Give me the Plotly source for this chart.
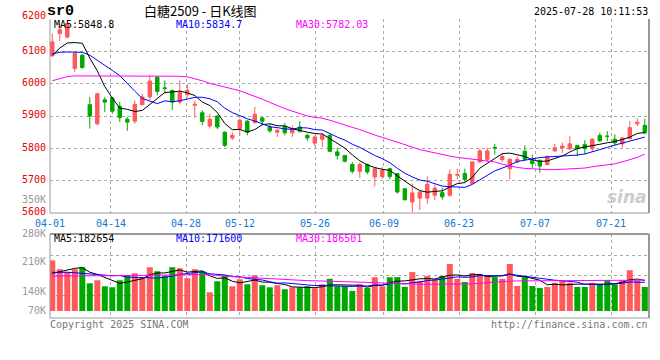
import plotly.graph_objects as go

# ---------------- data ----------------
dates = [
    "04-01", "04-02", "04-03", "04-07", "04-08", "04-09", "04-10", "04-11", "04-14", "04-15",
    "04-16", "04-17", "04-18", "04-21", "04-22", "04-23", "04-24", "04-25", "04-28", "04-29",
    "04-30", "05-06", "05-07", "05-08", "05-09", "05-12", "05-13", "05-14", "05-15", "05-16",
    "05-19", "05-20", "05-21", "05-22", "05-23", "05-26", "05-27", "05-28", "05-29", "05-30",
    "06-03", "06-04", "06-05", "06-06", "06-09", "06-10", "06-11", "06-12", "06-13", "06-16",
    "06-17", "06-18", "06-19", "06-20", "06-23", "06-24", "06-25", "06-26", "06-27", "06-30",
    "07-01", "07-02", "07-03", "07-04", "07-07", "07-08", "07-09", "07-10", "07-11", "07-14",
    "07-15", "07-16", "07-17", "07-18", "07-21", "07-22", "07-23", "07-24", "07-25", "07-28",
]

opens = [6086, 6155, 6144, 6047, 6088, 5935, 5876, 5950, 5956, 5930,
         5890, 5884, 5935, 5959, 6020, 5987, 5979, 5943, 5966, 5933,
         5910, 5869, 5900, 5850, 5832, 5861, 5884, 5880, 5894, 5866,
         5850, 5868, 5848, 5866, 5840, 5816, 5828, 5840, 5789, 5778,
         5750, 5729, 5750, 5711, 5713, 5737, 5722, 5675, 5634, 5646,
         5646, 5655, 5663, 5655, 5717, 5722, 5691, 5758, 5766, 5803,
         5765, 5737, 5758, 5791, 5763, 5763, 5750, 5792, 5801, 5799,
         5809, 5812, 5799, 5840, 5838, 5828, 5814, 5830, 5876, 5871]
highs = [6155, 6186, 6197, 6100, 6092, 5959, 5971, 5959, 5959, 5943,
         5897, 5948, 5969, 6026, 6024, 6010, 5981, 6010, 5998, 5948,
         5918, 5907, 5902, 5852, 5850, 5892, 5887, 5928, 5897, 5874,
         5861, 5878, 5871, 5884, 5845, 5840, 5848, 5845, 5802, 5779,
         5758, 5756, 5753, 5742, 5742, 5740, 5724, 5676, 5691, 5670,
         5713, 5686, 5678, 5735, 5737, 5737, 5759, 5799, 5802, 5814,
         5784, 5770, 5775, 5809, 5780, 5765, 5778, 5814, 5818, 5838,
         5810, 5825, 5832, 5848, 5853, 5843, 5835, 5885, 5892, 5892]
lows = [6083, 6131, 6140, 6036, 6046, 5861, 5871, 5912, 5907, 5881,
        5854, 5876, 5933, 5950, 5964, 5969, 5918, 5936, 5957, 5895,
        5871, 5861, 5859, 5804, 5825, 5840, 5840, 5876, 5871, 5848,
        5835, 5840, 5835, 5848, 5823, 5806, 5804, 5789, 5765, 5757,
        5722, 5708, 5720, 5682, 5706, 5704, 5660, 5639, 5603, 5609,
        5629, 5639, 5641, 5650, 5704, 5696, 5689, 5755, 5758, 5781,
        5758, 5703, 5753, 5763, 5739, 5725, 5747, 5789, 5786, 5794,
        5775, 5781, 5789, 5820, 5822, 5809, 5802, 5828, 5869, 5843]
closes = [6129, 6167, 6186, 6093, 6050, 5900, 5969, 5943, 5915, 5895,
          5881, 5936, 5959, 6008, 5976, 5985, 5943, 5974, 5979, 5936,
          5883, 5890, 5866, 5809, 5840, 5887, 5850, 5905, 5884, 5854,
          5856, 5848, 5861, 5853, 5832, 5835, 5840, 5791, 5778, 5760,
          5729, 5750, 5727, 5737, 5732, 5713, 5665, 5641, 5662, 5665,
          5689, 5677, 5650, 5720, 5719, 5704, 5758, 5792, 5792, 5801,
          5775, 5766, 5766, 5766, 5753, 5745, 5775, 5802, 5807, 5814,
          5799, 5799, 5828, 5823, 5837, 5817, 5832, 5864, 5881, 5848]

ma5 = [6088, 6110, 6126, 6127, 6125.0, 6079.2, 6039.6, 5991.0, 5955.4, 5924.4,
       5920.6, 5914.0, 5917.2, 5935.8, 5952.0, 5972.8, 5974.2, 5977.2, 5971.4, 5963.4,
       5943.0, 5932.4, 5910.8, 5876.8, 5857.6, 5858.4, 5850.4, 5858.2, 5873.2, 5876.0,
       5869.8, 5869.4, 5860.6, 5854.4, 5850.0, 5845.8, 5844.2, 5830.2, 5815.2, 5800.8,
       5779.6, 5761.6, 5748.8, 5740.6, 5735.0, 5731.8, 5714.8, 5697.6, 5682.6, 5669.2,
       5664.4, 5666.8, 5668.6, 5680.2, 5691.0, 5694.0, 5710.2, 5738.6, 5753.0, 5769.4,
       5783.6, 5785.2, 5780.0, 5774.8, 5765.2, 5759.2, 5761.0, 5768.2, 5776.4, 5788.6,
       5799.4, 5804.2, 5809.4, 5812.6, 5817.2, 5820.8, 5827.4, 5834.6, 5846.2, 5848.8]
ma10 = [6092, 6097, 6098, 6098, 6097, 6088, 6073, 6057, 6041, 6024.7,
        5999.9, 5976.8, 5954.1, 5945.6, 5938.2, 5946.7, 5944.1, 5947.2, 5953.6, 5957.7,
        5957.9, 5953.3, 5944.0, 5924.1, 5910.5, 5900.7, 5891.4, 5884.5, 5875.0, 5866.8,
        5864.1, 5859.9, 5859.4, 5863.8, 5863.0, 5857.8, 5856.8, 5845.4, 5834.8, 5825.4,
        5812.7, 5802.9, 5789.5, 5777.9, 5767.9, 5755.7, 5738.2, 5723.2, 5711.6, 5702.1,
        5698.1, 5690.8, 5683.1, 5681.4, 5680.1, 5679.2, 5688.5, 5703.6, 5716.6, 5730.2,
        5738.8, 5747.7, 5759.3, 5763.9, 5767.3, 5771.4, 5773.1, 5774.1, 5775.6, 5776.9,
        5779.3, 5782.6, 5788.8, 5794.5, 5802.9, 5810.1, 5815.8, 5822.0, 5829.4, 5834.7]
ma30 = [6009, 6016, 6022, 6024, 6024, 6024, 6024, 6024, 6023, 6023,
        6022, 6022, 6022, 6022, 6023, 6023, 6023, 6023, 6021, 6016,
        6009, 6001, 5996, 5990, 5984, 5978, 5970, 5962, 5952, 5942,
        5932, 5923, 5915, 5907, 5900, 5896, 5893, 5887, 5879, 5872,
        5865, 5858, 5849, 5841, 5834, 5827, 5820, 5811, 5804, 5796,
        5791, 5785, 5779, 5776, 5772, 5769, 5767, 5765, 5762, 5758,
        5751, 5745, 5741, 5738, 5736, 5734, 5734, 5734, 5735, 5736,
        5737, 5739, 5743, 5746, 5749, 5752, 5758, 5764, 5772, 5782.03]

volumes = [303000, 250000, 233000, 250000, 262000, 166000, 184000, 148000, 142000, 184000,
           211000, 226000, 202000, 262000, 238000, 211000, 262000, 256000, 196000, 250000,
           238000, 112000, 178000, 214000, 148000, 190000, 160000, 214000, 154000, 142000,
           154000, 130000, 142000, 142000, 148000, 136000, 160000, 193000, 148000, 148000,
           120000, 160000, 139000, 202000, 148000, 202000, 203000, 145000, 233000, 180000,
           209000, 190000, 209000, 281000, 192000, 174000, 227000, 221000, 215000, 203000,
           192000, 281000, 150000, 203000, 150000, 138000, 144000, 168000, 180000, 168000,
           144000, 144000, 168000, 162000, 184000, 160000, 184000, 244000, 184000, 144000]
vol_ma5 = [225000, 235000, 245000, 255000, 259600, 232200, 219000, 202000, 180400, 164800,
           173800, 182200, 193000, 217000, 227800, 227800, 235000, 245800, 232600, 235000,
           240400, 210400, 194800, 198400, 178000, 168400, 178000, 185200, 173200, 172000,
           164800, 158800, 144400, 142000, 143200, 139600, 145600, 155800, 157000, 157000,
           153800, 153800, 143000, 153800, 153800, 170200, 178800, 180000, 186200, 192600,
           194000, 191400, 204200, 213800, 216200, 209200, 216600, 219000, 205800, 208000,
           211600, 222400, 208200, 205800, 195200, 184400, 157000, 160600, 156000, 159600,
           160800, 160800, 160800, 157200, 160400, 163600, 171600, 186800, 191200, 182654]
vol_ma10 = [231000, 232000, 232000, 229000, 225000, 220000, 216000, 213000, 211000, 212200,
            203000, 200600, 197500, 198700, 196300, 200800, 208600, 219400, 224800, 231400,
            234100, 222700, 220300, 215500, 206500, 204400, 194200, 190000, 185800, 175000,
            166600, 168400, 164800, 157600, 157600, 152200, 152200, 150100, 149500, 150100,
            146700, 149700, 149400, 155400, 155400, 162000, 166300, 161500, 170000, 173200,
            182100, 185100, 192100, 200000, 204400, 201600, 204000, 211600, 209800, 212100,
            210400, 219500, 213600, 205800, 201600, 198000, 189700, 184400, 180900, 177400,
            172600, 158900, 160700, 156600, 160000, 162200, 166200, 173800, 174200, 171600]
vol_ma30 = [209000, 209000, 209000, 209000, 209000, 209000, 209000, 209000, 209000, 210000,
            211000, 212000, 213000, 214000, 215000, 216000, 217000, 218000, 219000, 220000,
            221000, 219000, 212000, 208000, 205000, 203000, 201000, 198000, 196000, 194000,
            192000, 189000, 187000, 184000, 182000, 181000, 180000, 180000, 179000, 178000,
            176000, 174000, 172000, 170000, 168000, 166000, 162000, 160000, 160000, 160000,
            160000, 160000, 160000, 160000, 160000, 160000, 162000, 166000, 170000, 174000,
            176000, 179000, 180000, 180000, 180000, 180000, 180000, 180000, 180000, 180000,
            180000, 180000, 180000, 180000, 181000, 182000, 183000, 184000, 185000, 186501]

price_ticks = [5600, 5700, 5800, 5900, 6000, 6100, 6200]
date_labels = ["04-01", "04-14", "04-28", "05-12", "05-26", "06-09", "06-23", "07-07", "07-21"]
vol_axis_labels = ["350K", "280K", "210K", "140K", "70K"]

# ---------------- layout constants ----------------
W, H = 660, 360
ML, MR = 50, 11
PW = W - ML - MR               # plot width in px
SLOT = 7.5                     # px per candle
X0 = -(52.3 - ML) / SLOT       # left edge in index units
X1 = X0 + PW / SLOT
TOP_MAIN, BOT_MAIN = 19, 213
TOP_VOL, BOT_VOL, BASE_VOL = 234, 318, 311
VPX = 5985                     # volume units per px

RED = "#FF5A5A"
GREEN = "#00A800"
GRID = "#A8A8A8"
BORDER = "#999999"
MONO = "DejaVu Sans Mono"


def py(px):
    return 1 - px / H


def px_x(px):
    return (px - ML) / PW


idx = list(range(len(dates)))
n_days = len(dates)
# Sina spreads the date grid lines over the full width (first day to last day)
grid_pos = [X0 + 0.001 + dates.index(d) * (PW / (n_days - 1)) / SLOT for d in date_labels]

fig = go.Figure()

fig.add_trace(go.Candlestick(
    x=idx, open=opens, high=highs, low=lows, close=closes,
    increasing=dict(line=dict(color=RED, width=1), fillcolor=RED),
    decreasing=dict(line=dict(color=GREEN, width=1), fillcolor=GREEN),
    whiskerwidth=0, xaxis="x", yaxis="y", hoverinfo="skip", showlegend=False,
))
for vals, col in ((ma5, "#000000"), (ma10, "#0000FF"), (ma30, "#FF00FF")):
    fig.add_trace(go.Scatter(x=idx, y=vals, mode="lines", line=dict(color=col, width=1),
                             xaxis="x", yaxis="y", hoverinfo="skip", showlegend=False))

vol_colors = [RED if c > o else GREEN for o, c in zip(opens, closes)]
fig.add_trace(go.Bar(x=idx, y=volumes, marker=dict(color=vol_colors, line=dict(width=0)),
                     width=0.8, xaxis="x2", yaxis="y2", hoverinfo="skip", showlegend=False))
for vals, col in ((vol_ma5, "#000000"), (vol_ma10, "#0000FF"), (vol_ma30, "#FF00FF")):
    fig.add_trace(go.Scatter(x=idx, y=vals, mode="lines", line=dict(color=col, width=1),
                             xaxis="x2", yaxis="y2", hoverinfo="skip", showlegend=False))

xcommon = dict(range=[X0, X1], tickmode="array", tickvals=grid_pos, showgrid=True,
               gridcolor=GRID, griddash="dot", gridwidth=1, zeroline=False, showline=False,
               ticks="", fixedrange=True, showticklabels=False)

fig.update_layout(
    width=W, height=H,
    margin=dict(l=ML, r=MR, t=0, b=0, autoexpand=False),
    paper_bgcolor="white", plot_bgcolor="white",
    font=dict(family=MONO, size=10, color="#000"),
    showlegend=False,
    boxgap=0.35,
    xaxis=dict(**xcommon, domain=[0, 1], anchor="y", rangeslider=dict(visible=False)),
    xaxis2=dict(**xcommon, domain=[0, 1], anchor="y2"),
    yaxis=dict(domain=[py(BOT_MAIN), py(TOP_MAIN)], range=[price_ticks[0], price_ticks[-1]],
               tickmode="array", tickvals=price_ticks, showticklabels=False,
               showgrid=True, gridcolor=GRID, griddash="dot", gridwidth=1,
               zeroline=False, showline=False, ticks="", fixedrange=True, anchor="x"),
    yaxis2=dict(domain=[py(BOT_VOL), py(TOP_VOL)],
                range=[-(BOT_VOL - BASE_VOL) * VPX, (BASE_VOL - TOP_VOL) * VPX],
                tickmode="array",
                tickvals=[(BASE_VOL - 255) * VPX, (BASE_VOL - 275) * VPX, (BASE_VOL - 295) * VPX],
                showticklabels=False, showgrid=True, gridcolor=GRID, griddash="dot", gridwidth=1,
                zeroline=False, showline=False, ticks="", fixedrange=True, anchor="x2"),
)

# panel borders
shapes = []
for xr, yr, top in (("x domain", "y domain", False), ("x2 domain", "y2 domain", True)):
    shapes.append(dict(type="line", xref=xr, yref=yr, x0=0, x1=0, y0=0, y1=1,
                       line=dict(color=BORDER, width=1)))
    shapes.append(dict(type="line", xref=xr, yref=yr, x0=1, x1=1, y0=0, y1=1,
                       line=dict(color=BORDER, width=2)))
    shapes.append(dict(type="line", xref=xr, yref=yr, x0=0, x1=1, y0=0, y1=0,
                       line=dict(color=BORDER, width=1)))
    if top:
        shapes.append(dict(type="line", xref=xr, yref=yr, x0=0, x1=1, y0=1, y1=1,
                           line=dict(color=BORDER, width=2)))
fig.update_layout(shapes=shapes)

ann = []


def text(x, y, s, color="#000", size=10, anchor="left", family=MONO, xref="paper",
         yref="paper", **kw):
    ann.append(dict(x=x, y=y, xref=xref, yref=yref, text=s, showarrow=False,
                    xanchor=anchor, yanchor="middle", borderpad=0,
                    font=dict(family=family, size=size, color=color), **kw))


text(px_x(46), py(11), "<b>sr0</b>", size=15, family="Liberation Mono", height=15)
text(px_x(200), py(10.5), "白糖2509 - 日K线图", size=13, anchor="center",
     family="Noto Sans CJK SC", height=15)
text(px_x(649), py(11), "2025-07-28 10:11:53", anchor="right", height=13)

text(px_x(53), py(24.5), f"MA5:{ma5[-1]:.1f}", color="#000000", height=11)
text(px_x(175), py(24.5), f"MA10:{ma10[-1]:.1f}", color="#0000FF", height=11)
text(px_x(295), py(24.5), f"MA30:{ma30[-1]:.2f}", color="#FF00FF", height=11)

text(px_x(53), py(238.5), f"MA5:{vol_ma5[-1]}", color="#000000", height=11)
text(px_x(175), py(238.5), f"MA10:{vol_ma10[-1]}", color="#0000FF", height=11)
text(px_x(295), py(238.5), f"MA30:{vol_ma30[-1]}", color="#FF00FF", height=11)

# price labels (red) sitting just above their grid lines
for v in price_ticks:
    text(px_x(46.5), v, str(v), color="#E60000", anchor="right", yref="y", height=10,
         yshift=4 if v == price_ticks[-1] else 1.8)

# date labels under the price panel
for lab, gx in zip(date_labels, grid_pos):
    text(gx, py(222.5), lab, color="#1478D2", anchor="center", xref="x", height=10)

for lab, ypx in zip(vol_axis_labels, (198.5, 232.5, 261, 291, 310)):
    text(px_x(47), py(ypx), lab, color="#999999", anchor="right", height=10)

text(px_x(49), py(324), "Copyright 2025 SINA.COM", color="#777777", height=11)
text(px_x(649), py(324), "http://finance.sina.com.cn", color="#777777", anchor="right", height=11)

text(px_x(648), py(197), "<b><i>sina</i></b>", color="#CCCCCC", size=17, anchor="right",
     family="DejaVu Sans")

fig.update_layout(annotations=ann)

fig.write_html("out.html", config={"displayModeBar": False, "staticPlot": True},
               post_script="document.body.style.margin='0';")
